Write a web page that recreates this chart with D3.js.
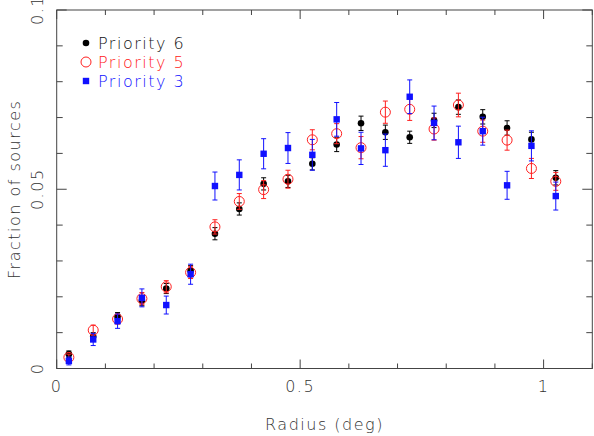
<!DOCTYPE html>
<html>
<head>
<meta charset="utf-8">
<script src="https://cdn.jsdelivr.net/npm/d3@7"></script>
<style>
  body { margin: 0; background: #fff; }
  svg text { font-family: "DejaVu Sans ExtraLight", "DejaVu Sans", sans-serif; font-weight: 200; fill: #333; letter-spacing: 1.5px; }
</style>
</head>
<body>
<div id="container"></div>
<script>
// bin centres (deg)
var radius = [0.025,0.075,0.125,0.175,0.225,0.275,0.325,0.375,0.425,0.475,0.525,
              0.575,0.625,0.675,0.725,0.775,0.825,0.875,0.925,0.975,1.025];

var prio6 = [0.0040,0.0089,0.0145,0.0189,0.0223,0.0273,0.0376,0.0445,0.0515,0.0522,0.0571,
             0.0625,0.0684,0.0659,0.0645,0.0692,0.0729,0.0702,0.0671,0.0639,0.0532];
var prio6err = [0.0009,0.0011,0.0011,0.0014,0.0014,0.0014,0.0017,0.0017,0.0017,0.0017,0.0017,
                0.0020,0.0020,0.0020,0.0017,0.0020,0.0020,0.0020,0.0020,0.0020,0.0020];

var prio5 = [0.0031,0.0107,0.0138,0.0195,0.0228,0.0268,0.0395,0.0466,0.0499,0.0528,0.0638,
             0.0655,0.0616,0.0715,0.0723,0.0668,0.0735,0.0662,0.0637,0.0558,0.0522];
var prio5err = [0.0009,0.0014,0.0014,0.0017,0.0017,0.0017,0.0020,0.0022,0.0025,0.0025,0.0028,
                0.0028,0.0031,0.0031,0.0031,0.0031,0.0033,0.0031,0.0028,0.0028,0.0025];

var prio3 = [0.0021,0.0081,0.0132,0.0197,0.0177,0.0263,0.0509,0.0540,0.0599,0.0615,0.0596,
             0.0695,0.0614,0.0609,0.0758,0.0685,0.0631,0.0662,0.0511,0.0621,0.0481];
var prio3err = [0.0011,0.0017,0.0020,0.0025,0.0025,0.0028,0.0039,0.0042,0.0042,0.0043,0.0043,
                0.0047,0.0045,0.0045,0.0047,0.0047,0.0045,0.0039,0.0039,0.0042,0.0039];

var xTicks = [0, 0.5, 1];
var yTicks = [0, 0.05, 0.1];
var xTickLabels = ["0", "0.5", "1"];
var yTickLabels = ["0", "0.05", "0.1"];

var W = 594, H = 436;
// plot box (note: "top" is reserved on window, so use pTop etc)
var pLeft = 56.7, pRight = 592.3, pTop = 10, pBottom = 368.5;

var svg = d3.select("div#container").append("svg")
  .attr("width", W)
  .attr("height", H);

var x = d3.scaleLinear().domain([0, 1.1]).range([pLeft, pRight]);
var y = d3.scaleLinear().domain([0, 0.1]).range([pBottom, pTop]);

var axisCol = "#444";

// frame
svg.append("rect")
  .attr("x", pLeft).attr("y", pTop)
  .attr("width", pRight - pLeft).attr("height", pBottom - pTop)
  .attr("fill", "none").attr("stroke", axisCol).attr("stroke-width", 1);

// ticks on all four sides, pointing inwards
var xMinor = d3.range(0, 1.1001, 0.1);
var yMinor = d3.range(0, 0.1001, 0.01);
var ticksG = svg.append("g").attr("stroke", axisCol).attr("stroke-width", 1);

function isMajor(v, step) { return Math.abs(v / step - Math.round(v / step)) < 1e-6; }

xMinor.forEach(function(v) {
  var len = isMajor(v, 0.5) ? 9 : 5;
  ticksG.append("line").attr("x1", x(v)).attr("x2", x(v)).attr("y1", pBottom).attr("y2", pBottom - len);
  ticksG.append("line").attr("x1", x(v)).attr("x2", x(v)).attr("y1", pTop).attr("y2", pTop + len);
});
yMinor.forEach(function(v) {
  var len = isMajor(v, 0.05) ? 10 : 6;
  ticksG.append("line").attr("y1", y(v)).attr("y2", y(v)).attr("x1", pLeft).attr("x2", pLeft + len);
  ticksG.append("line").attr("y1", y(v)).attr("y2", y(v)).attr("x1", pRight).attr("x2", pRight - len);
});

// tick labels
svg.selectAll("text.xlab").data(xTicks).enter().append("text")
  .attr("class", "xlab")
  .attr("x", function(d) { return x(d); })
  .attr("y", 392)
  .attr("text-anchor", "middle")
  .style("font-size", "16px")
  .text(function(d, i) { return xTickLabels[i]; });

svg.selectAll("text.ylab").data(yTicks).enter().append("text")
  .attr("class", "ylab")
  .attr("transform", function(d) { return "translate(43," + y(d) + ") rotate(-90)"; })
  .attr("text-anchor", "middle")
  .style("font-size", "16px")
  .text(function(d, i) { return yTickLabels[i]; });

// axis titles
svg.append("text")
  .attr("x", (pLeft + pRight) / 2).attr("y", 430)
  .attr("text-anchor", "middle")
  .style("font-size", "16px")
  .text("Radius (deg)");

svg.append("text")
  .attr("transform", "translate(20," + (pTop + pBottom) / 2 + ") rotate(-90)")
  .attr("text-anchor", "middle")
  .style("font-size", "16px")
  .text("Fraction of sources");

// series
var series = [
  { name: "Priority 6", vals: prio6, errs: prio6err, col: "#000000", shape: "dot" },
  { name: "Priority 5", vals: prio5, errs: prio5err, col: "#ff2020", shape: "ring" },
  { name: "Priority 3", vals: prio3, errs: prio3err, col: "#1010ff", shape: "square" }
];

function drawMarker(g, shape, cx, cy, col) {
  if (shape === "dot") {
    g.append("circle").attr("cx", cx).attr("cy", cy).attr("r", 3.3).attr("fill", col);
  } else if (shape === "ring") {
    g.append("circle").attr("cx", cx).attr("cy", cy).attr("r", 5).attr("fill", "none")
      .attr("stroke", col).attr("stroke-width", 1);
  } else {
    g.append("rect").attr("x", cx - 3.2).attr("y", cy - 3.2).attr("width", 6.4).attr("height", 6.4)
      .attr("fill", col);
  }
}

series.forEach(function(s) {
  var g = svg.append("g");
  s.vals.forEach(function(v, i) {
    var cx = x(radius[i]);
    var y1 = y(v - s.errs[i]), y2 = y(v + s.errs[i]);
    g.append("line").attr("x1", cx).attr("x2", cx).attr("y1", y1).attr("y2", y2)
      .attr("stroke", s.col).attr("stroke-width", 1);
    [y1, y2].forEach(function(yy) {
      g.append("line").attr("x1", cx - 2.5).attr("x2", cx + 2.5).attr("y1", yy).attr("y2", yy)
        .attr("stroke", s.col).attr("stroke-width", 1);
    });
    drawMarker(g, s.shape, cx, y(v), s.col);
  });
});

// legend
var legendY = [43, 62, 81];
series.forEach(function(s, i) {
  var g = svg.append("g");
  drawMarker(g, s.shape, 86, legendY[i], s.col);
  g.append("text")
    .attr("x", 98).attr("y", legendY[i] + 5.5)
    .style("font-size", "16px")
    .style("fill", s.col === "#000000" ? "#111" : s.col)
    .text(s.name);
});
</script>
</body>
</html>
